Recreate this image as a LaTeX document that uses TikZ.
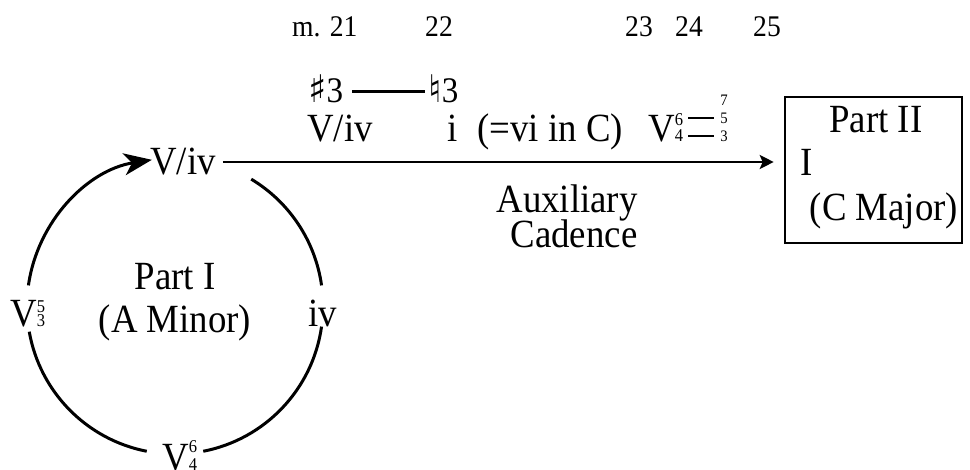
\documentclass[tikz,border=0pt]{standalone}
\usepackage{fontspec}
\setmainfont{Liberation Serif}[FakeStretch=0.92]
\newfontfamily\symfont{DejaVu Sans}
\usetikzlibrary{arrows.meta,calc}
\newcommand\figfont{\fontsize{18}{18}\selectfont}
\newcommand\fig[3][16pt]{\rlap{\raisebox{#1}{\figfont #2}}{\figfont #3}}
\begin{document}
\begin{tikzpicture}[x=1pt,y=-1pt,
  txt/.style={inner sep=0pt, font=\fontsize{40}{44}\selectfont},
  meas/.style={inner sep=0pt, anchor=base west, font=\fontsize{30}{34}\selectfont},
  tiny/.style={inner sep=0pt, font=\fontsize{16}{16}\selectfont},
  arcln/.style={line width=3pt},
  bigtip/.style={-{Stealth[length=28pt,width=22pt,inset=8pt]}},
  mainarr/.style={line width=2.3pt,-{Stealth[length=14pt,width=14pt,inset=3pt]}},
  tie/.style={line width=3pt},
  figdash/.style={line width=1.5pt}]
\useasboundingbox (0,0) rectangle (970,470);
% measure numbers
\node[meas] (m21) at (292,37) {m. 21};
\node[meas] (m22) at (425,37) {22};
\node[meas] (m23) at (625,37) {23};
\node[meas] (m24) at (675,37) {24};
\node[meas] (m25) at (753,37) {25};
% circle
\coordinate (c) at (175,306);
\draw[arcln,bigtip] ($(c)+(-172:148)$) arc[start angle=-172,end angle=-99,radius=148];
\draw[arcln] ($(c)+(-59:148)$) arc[start angle=-59,end angle=-8,radius=148];
\draw[arcln] ($(c)+(8:148)$) arc[start angle=8,end angle=79,radius=148];
\draw[arcln] ($(c)+(101:148)$) arc[start angle=101,end angle=170,radius=148];
\node[txt,anchor=base west] (viv) at (150,175) {V/iv};
\node[txt,anchor=base west] (v53) at (10,327) {V\fig[14pt]{5}{3}};
\node[txt,anchor=base west] (iv) at (308,327) {iv};
\node[txt,anchor=base west] (v64) at (162,471) {V\fig[18pt]{6}{4}};
\node[txt,anchor=base] (p1) at (175,290) {Part I};
\node[txt,anchor=base] (am) at (175,333) {(A Minor)};
% row 1
\node[txt,anchor=base west,font=\fontsize{36}{40}\selectfont] (sh) at (308,103) {{\symfont\fontsize{38}{40}\selectfont ♯}3};
\node[txt,anchor=base west,font=\fontsize{36}{40}\selectfont] (nat) at (428,103) {{\symfont\fontsize{38}{40}\selectfont ♮}3};
\draw[tie] ([xshift=9pt,yshift=11pt]sh.base east) -- ([xshift=-3pt,yshift=11pt]nat.base west);
% row 2
\node[txt,anchor=base west] (rviv) at (307,142) {V/iv};
\node[txt,anchor=base west] (ri) at (447,142) {i\enspace(=vi in C)};
\node[txt,anchor=base west] (rv) at (648,142) {V\fig[16pt]{6}{4}};
\node[tiny] (f7) at (724,100) {7};
\node[tiny] (f5) at (724,118) {5};
\node[tiny] (f3) at (724,136) {3};
\draw[figdash] ($(rv.east |- f5.west)+(5,0)$) -- ($(f5.west)+(-6,0)$);
\draw[figdash] ($(rv.east |- f3.west)+(5,0)$) -- ($(f3.west)+(-6,0)$);
% auxiliary cadence
\node[txt,anchor=base] (aux) at (567,213) {Auxiliary};
\node[txt,anchor=base] (cad) at (574,248) {Cadence};
% box
\node[draw,line width=2.6pt,minimum width=177,minimum height=146,inner sep=0pt] (box) at (873.5,170) {};
\node[txt,anchor=base] (p2) at (876,133) {Part II};
\node[txt,anchor=base west] (one) at (800,176) {I};
\node[txt,anchor=base] (cm) at (884,221) {(C Major)};
% main arrow
\draw[mainarr] ($(viv.base east)+(7,-13)$) -- ($(box.west |- viv.base east)+(-10,-13)$);
\end{tikzpicture}
\end{document}
